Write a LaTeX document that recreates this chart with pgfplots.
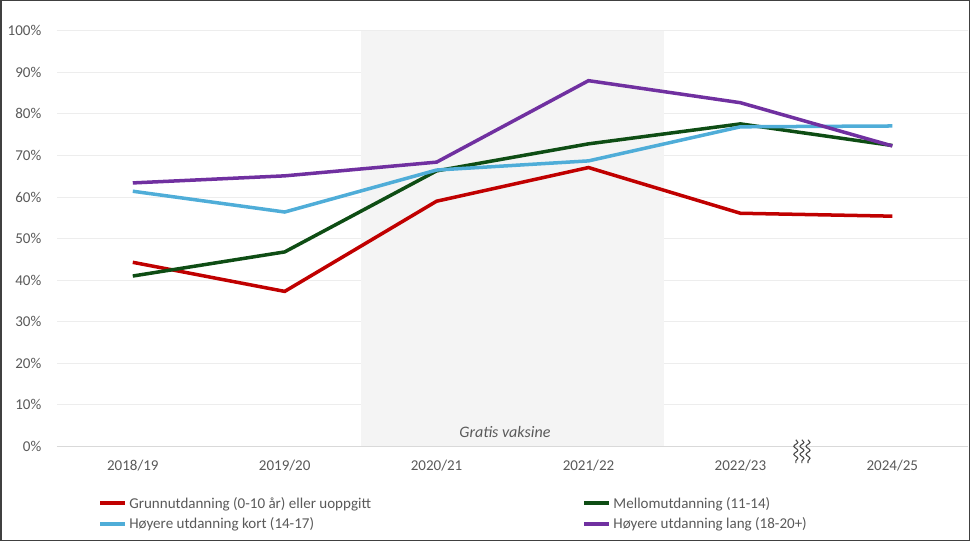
\documentclass[border=0pt]{standalone}
\usepackage{fontspec}
\setmainfont{Carlito}
\usepackage{pgfplots}
\pgfplotsset{compat=1.18}
\usetikzlibrary{decorations.pathmorphing}

\definecolor{grunn}{HTML}{C00000}
\definecolor{mello}{HTML}{0E4D14}
\definecolor{hoykort}{HTML}{4FADD8}
\definecolor{hoylang}{HTML}{7030A0}
\definecolor{ticktext}{HTML}{595959}
\definecolor{gridc}{HTML}{EDEDED}
\definecolor{bandc}{HTML}{F4F4F4}

\begin{document}
\begin{tikzpicture}
\begin{axis}[
    scale only axis,
    width=910pt, height=415pt,
    xmin=-0.5, xmax=5.5,
    ymin=0, ymax=100,
    xtick={0,1,2,3,4,5},
    xticklabels={2018/19,2019/20,2020/21,2021/22,2022/23,2024/25},
    ytick={0,10,20,30,40,50,60,70,80,90,100},
    yticklabels={0\%,10\%,20\%,30\%,40\%,50\%,60\%,70\%,80\%,90\%,100\%},
    ymajorgrids,
    grid style={gridc, line width=1pt},
    axis line style={draw=none},
    major tick style={draw=none},
    tick label style={font=\fontsize{15}{18}\selectfont, text=ticktext},
    xticklabel style={yshift=-10pt},
    yticklabel style={xshift=-12pt},
    clip=false,
    legend columns=2,
    legend cell align=left,
    legend style={at={(axis description cs:0.042,-0.112)}, anchor=north west,
        draw=none, fill=none, font=\fontsize{15}{18}\selectfont, text=ticktext,
        row sep=4pt,
        /tikz/every even column/.append style={column sep=209pt}},
    legend image code/.code={\draw[#1, line width=4pt] (0pt,0pt) -- (25pt,0pt);},
]
% shaded period
\fill[bandc] (axis cs:1.5,0) rectangle (axis cs:3.5,100);
\draw[gridc, line width=1pt] (axis cs:-0.5,100) -- (axis cs:5.5,100);
% bottom axis line
\draw[black!15, line width=1.2pt] (axis cs:-0.5,0) -- (axis cs:5.5,0);

\addplot[grunn, line width=3.5pt] coordinates {
(0,44.3) (1,37.3) (2,59.0) (3,67.1) (4,56.1) (5,55.4)};
\addplot[mello, line width=3.5pt] coordinates {
(0,41.0) (1,46.8) (2,66.3) (3,72.8) (4,77.6) (5,72.4)};
\addplot[hoykort, line width=3.5pt] coordinates {
(0,61.4) (1,56.4) (2,66.5) (3,68.7) (4,76.9) (5,77.1)};
\addplot[hoylang, line width=3.5pt] coordinates {
(0,63.4) (1,65.1) (2,68.4) (3,88.0) (4,82.7) (5,72.3)};

\legend{Grunnutdanning (0-10 år) eller uoppgitt, Mellomutdanning (11-14),
Høyere utdanning kort (14-17), Høyere utdanning lang (18-20+)}

\node[font=\fontsize{16}{19}\selectfont\itshape, text=ticktext] at (axis cs:2.45,3.4) {Gratis vaksine};

% axis break mark
\draw[black!70, line width=1.1pt, decorate,
      decoration={snake, amplitude=2pt, segment length=8pt}]
      (axis cs:4.365,1.6) -- (axis cs:4.365,-4.0);
\draw[black!70, line width=1.1pt, decorate,
      decoration={snake, amplitude=2pt, segment length=8pt}]
      (axis cs:4.405,1.6) -- (axis cs:4.405,-4.0);
\draw[black!70, line width=1.1pt, decorate,
      decoration={snake, amplitude=2pt, segment length=8pt}]
      (axis cs:4.445,1.6) -- (axis cs:4.445,-4.0);
\end{axis}
\draw[black!75, line width=1.5pt]
  ([xshift=-56pt,yshift=-94pt]current axis.south west) rectangle
  ([xshift=1pt,yshift=30pt]current axis.north east);
\end{tikzpicture}
\end{document}
